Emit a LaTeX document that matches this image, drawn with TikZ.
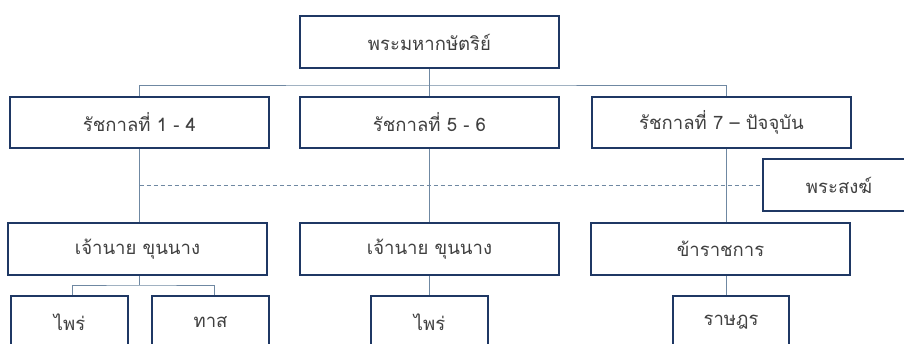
\documentclass[tikz,border=0pt]{standalone}
\usepackage{fontspec}
\newfontfamily\thaifont[Script=Thai]{Loma}
\definecolor{boxline}{HTML}{1F3864}
\definecolor{linkline}{HTML}{6F88A2}
\definecolor{txt}{HTML}{404040}
\begin{document}
\begin{tikzpicture}[x=1pt,y=-1pt,
  box/.style={draw=boxline,line width=2pt,fill=white,inner sep=0pt,
    minimum height=51pt,text=txt,font=\thaifont\fontsize{18.5}{22}\selectfont},
  wide/.style={box,minimum width=259pt},
  small/.style={box,minimum width=117pt,minimum height=52pt},
  link/.style={draw=linkline,line width=0.9pt},
  dlink/.style={link,dash pattern=on 4pt off 3pt}]
\useasboundingbox (0,0) rectangle (904,343);
\clip (0,0) rectangle (904,343);
% top
\node[wide,minimum height=52pt] (top) at (429.5,42) {พระมหากษัตริย์};
% row 2
\node[wide] (r2a) at (139.5,122.5) {รัชกาลที่ 1 - 4};
\node[wide] (r2b) at (429.5,122.5) {รัชกาลที่ 5 - 6};
\node[wide] (r2c) at (721.5,122.5) {รัชกาลที่ 7 – ปัจจุบัน};
% monks
\node[box,minimum width=152pt,minimum height=52pt] (monk) at (839,185) {พระสงฆ์};
% row 3
\node[wide,minimum height=52pt] (r3a) at (137.5,249) {เจ้านาย ขุนนาง};
\node[wide,minimum height=52pt] (r3b) at (429.5,249) {เจ้านาย ขุนนาง};
\node[wide,minimum height=52pt] (r3c) at (720.5,249) {ข้าราชการ};
% row 4
\node[small] (r4a) at (69.5,322) {ไพร่};
\node[small] (r4b) at (210.5,322) {ทาส};
\node[small] (r4c) at (429.5,322) {ไพร่};
\node[small,minimum width=116pt] (r4d) at (731,322) {ราษฎร};
% connectors
\coordinate (bus) at (429.5,85);
\coordinate (bus2) at (139.5,285);
\path[link] (top.south) -- (r2b.north);
\path[link] (r2a.north) |- (bus) -| ([xshift=4.5pt]r2c.north);
\path[link] (r2a.south) -- (r2a.south |- r3a.north);
\path[link] (r2b.south) -- (r3b.north);
\path[link] ([xshift=4.5pt]r2c.south) -- ([xshift=4.5pt]r2c.south |- r3c.north);
\path[dlink] (r2a.south |- monk.west) -- (monk.west);
\path[link] (r2a.south |- r3a.south) -- (bus2);
\path[link] ([xshift=2.5pt]r4a.north) |- (bus2) -| ([xshift=3.5pt]r4b.north);
\path[link] (r3b.south) -- (r4c.north);
\path[link] ([xshift=5.5pt]r3c.south) -- ([xshift=-5pt]r4d.north);
\end{tikzpicture}
\end{document}
